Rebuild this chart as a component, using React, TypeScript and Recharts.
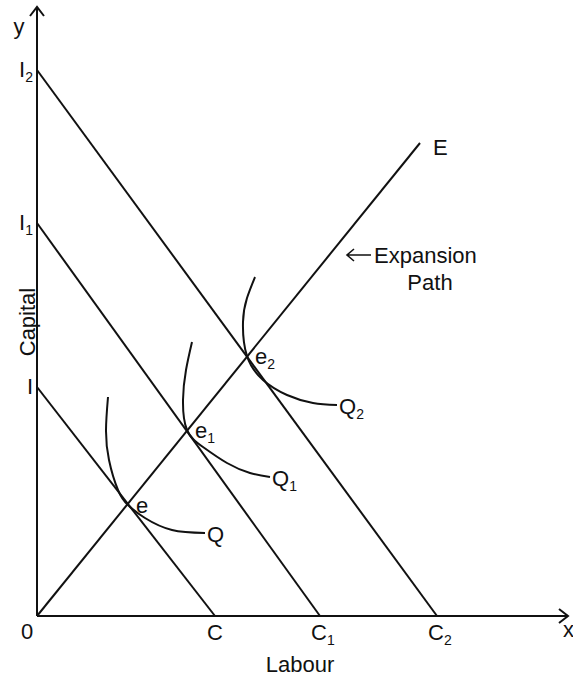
import { ComposedChart, Line, XAxis, YAxis, ReferenceDot } from 'recharts';

type Pt = { x: number; y: number };

// capital (I) and labour (C) intercepts of the three isocost lines
const isocostSubs = ['', '1', '2'];
const capitalIntercepts = [22.9, 39.3, 54.6];
const labourIntercepts = [17.8, 28.3, 40.0];

// tangency points e, e1, e2
const equilibria: Pt[] = [
  { x: 9.1, y: 11.1 },
  { x: 15.0, y: 18.6 },
  { x: 21.0, y: 26.0 },
];

const expansionPath: Pt[] = [
  { x: 0, y: 0 },
  { x: 38.3, y: 47.3 },
];

// isoquants Q, Q1, Q2
const isoquantQ: Pt[] = [
  { x: 7.1, y: 21.9 },
  { x: 6.9, y: 18.6 },
  { x: 7.2, y: 15.6 },
  { x: 8.1, y: 12.6 },
  { x: 9.1, y: 11.1 },
  { x: 10.8, y: 9.8 },
  { x: 13.5, y: 8.6 },
  { x: 16.8, y: 8.3 },
];
const isoquantQ1: Pt[] = [
  { x: 15.5, y: 27.4 },
  { x: 14.9, y: 24.6 },
  { x: 14.6, y: 21.6 },
  { x: 15.0, y: 18.6 },
  { x: 16.6, y: 16.9 },
  { x: 19.0, y: 15.3 },
  { x: 21.3, y: 14.3 },
  { x: 23.3, y: 13.9 },
];
const isoquantQ2: Pt[] = [
  { x: 21.8, y: 33.9 },
  { x: 21.0, y: 31.8 },
  { x: 20.6, y: 29.4 },
  { x: 21.0, y: 26.0 },
  { x: 22.6, y: 23.6 },
  { x: 25.0, y: 22.1 },
  { x: 27.6, y: 21.3 },
  { x: 30.0, y: 21.1 },
];
const isoquants = [isoquantQ, isoquantQ1, isoquantQ2];

const xAxisEnd = 53.1;
const yAxisEnd = 60.9;

const FONT = '"Liberation Sans", Arial, sans-serif';

function label(
  text: string,
  sub: string,
  dx: number,
  dy: number,
  anchor: 'start' | 'middle' | 'end' = 'start',
  size = 22,
  rotate = false,
) {
  return (props: any) => {
    const x = props.cx + dx;
    const y = props.cy + dy;
    return (
      <text
        x={x}
        y={y}
        textAnchor={anchor}
        fontFamily={FONT}
        fontSize={size}
        fill="#111"
        transform={rotate ? `rotate(-90 ${x} ${y})` : undefined}
      >
        {text}
        {sub ? (
          <tspan fontSize={14} dy={5}>
            {sub}
          </tspan>
        ) : null}
      </text>
    );
  };
}

// "<- Expansion" pointer next to the path
const pointerLabel = (props: any) => {
  const x = props.cx;
  const y = props.cy;
  return (
    <g>
      <path d={`M${x} ${y - 8} H${x + 24} M${x + 7} ${y - 14} L${x} ${y - 8} L${x + 7} ${y - 2}`} stroke="#111" strokeWidth={1.6} fill="none" />
      <text x={x + 27} y={y} fontFamily={FONT} fontSize={22} fill="#111">
        Expansion
      </text>
    </g>
  );
};

export default function App() {
  const isocosts = capitalIntercepts.map((c, i) => [
    { x: 0, y: c },
    { x: labourIntercepts[i], y: 0 },
  ]);
  const yArrow: Pt[] = [
    { x: -0.7, y: yAxisEnd - 0.9 },
    { x: 0, y: yAxisEnd },
    { x: 0.7, y: yAxisEnd - 0.9 },
  ];
  const xArrow: Pt[] = [
    { x: xAxisEnd - 0.9, y: 0.7 },
    { x: xAxisEnd, y: 0 },
    { x: xAxisEnd - 0.9, y: -0.7 },
  ];
  const stroke = { stroke: '#111', strokeWidth: 2, dot: false, isAnimationActive: false, activeDot: false } as const;

  return (
    <div style={{ position: 'absolute', left: 0, top: 0, background: '#fff' }}>
      <ComposedChart width={573} height={679} margin={{ top: 0, right: 0, bottom: 0, left: 0 }}>
        <XAxis type="number" dataKey="x" domain={[-3.7, 53.6]} allowDataOverflow hide />
        <YAxis type="number" dataKey="y" domain={[-6.3, 61.6]} allowDataOverflow hide />

        <Line data={[{ x: 0, y: 0 }, { x: 0, y: yAxisEnd }]} dataKey="y" type="linear" {...stroke} />
        <Line data={[{ x: 0, y: 0 }, { x: xAxisEnd, y: 0 }]} dataKey="y" type="linear" {...stroke} />
        <Line data={yArrow} dataKey="y" type="linear" {...stroke} />
        <Line data={xArrow} dataKey="y" type="linear" {...stroke} />

        {isocosts.map((d, i) => (
          <Line key={'ic' + i} data={d} dataKey="y" type="linear" {...stroke} />
        ))}
        <Line data={expansionPath} dataKey="y" type="linear" {...stroke} />
        {isoquants.map((d, i) => (
          <Line key={'iq' + i} data={d} dataKey="y" type="natural" {...stroke} />
        ))}

        {/* axis letters */}
        <ReferenceDot x={0} y={yAxisEnd} r={0} shape={label('y', '', -18, 27, 'middle')} />
        <ReferenceDot x={xAxisEnd} y={0} r={0} shape={label('x', '', -5, 21)} />
        <ReferenceDot x={0} y={0} r={0} shape={label('0', '', -10, 23, 'middle')} />
        <ReferenceDot x={26.3} y={0} r={0} shape={label('Labour', '', 0, 56, 'middle')} />
        <ReferenceDot x={0} y={capitalIntercepts[0] + 6.5} r={0} shape={label('Capital', '', -2, 0, 'middle', 22, true)} />

        {capitalIntercepts.map((c, i) => (
          <ReferenceDot key={'I' + i} x={0} y={c} r={0} shape={label('I', isocostSubs[i], -4, 7, 'end')} />
        ))}
        {labourIntercepts.map((c, i) => (
          <ReferenceDot key={'C' + i} x={c} y={0} r={0} shape={label('C', isocostSubs[i], i === 0 ? -8 : -9, 24)} />
        ))}
        {equilibria.map((p, i) => (
          <ReferenceDot key={'e' + i} x={p.x} y={p.y} r={0} shape={label('e', isocostSubs[i], 8, 8)} />
        ))}
        {isoquants.map((d, i) => (
          <ReferenceDot
            key={'q' + i}
            x={d[d.length - 1].x}
            y={d[d.length - 1].y}
            r={0}
            shape={label('Q', isocostSubs[i], 2, 9)}
          />
        ))}

        <ReferenceDot x={expansionPath[1].x} y={expansionPath[1].y} r={0} shape={label('E', '', 13, 12)} />
        <ReferenceDot x={31.0} y={35.3} r={0} shape={pointerLabel} />
        <ReferenceDot x={39.3} y={32.6} r={0} shape={label('Path', '', 0, 0, 'middle')} />
      </ComposedChart>
    </div>
  );
}
